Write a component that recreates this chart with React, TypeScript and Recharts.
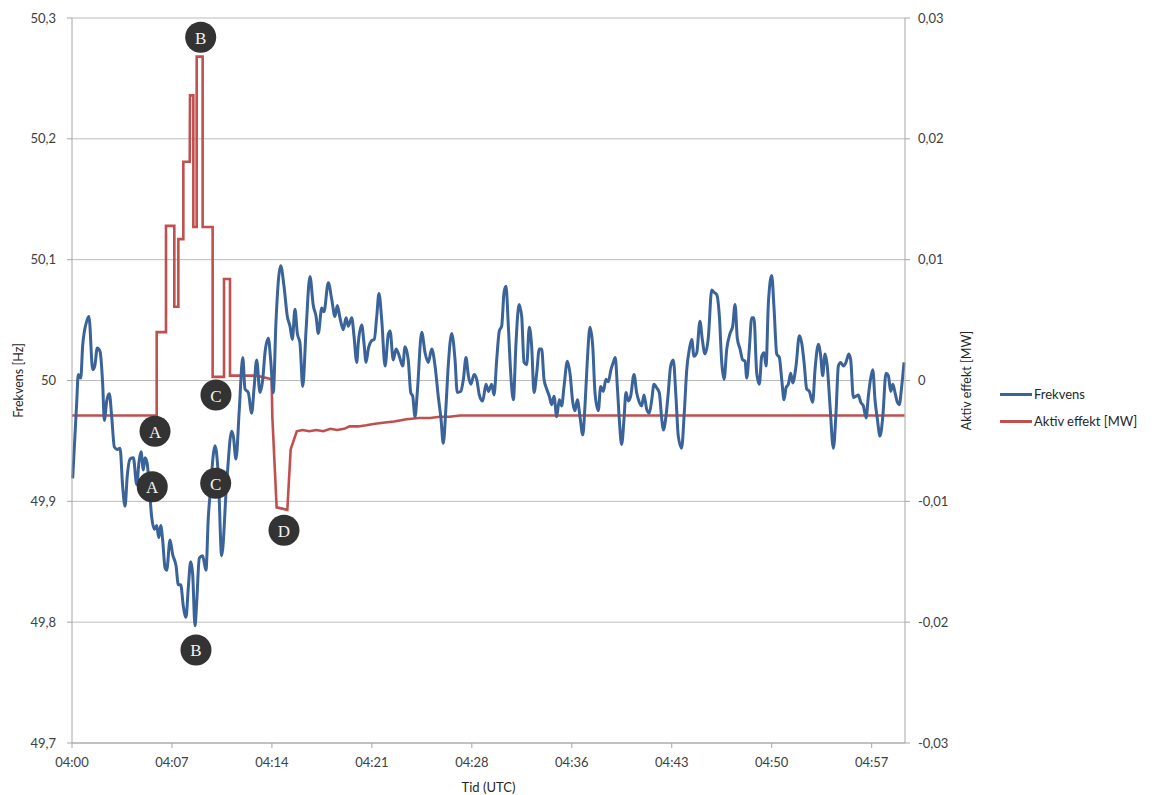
import React from 'react';
import {
  LineChart,
  Line,
  XAxis,
  YAxis,
  CartesianGrid,
  ReferenceDot,
} from 'recharts';

// minutes after 04:00 and frequency [Hz]
const freqTime = [
  0.05, 0.34, 0.45, 0.63, 0.77, 1.06, 1.22, 1.49, 1.64, 1.82, 2.02, 2.21, 2.33, 2.5, 2.69, 2.86, 3.05, 3.26, 3.46, 3.65,
  3.82, 3.98, 4.18, 4.42, 4.66, 4.83, 4.97, 5.14, 5.26, 5.42, 5.57, 5.74, 5.93, 6.1, 6.25, 6.39, 6.53, 6.7, 6.82, 7.06,
  7.25, 7.49, 7.66, 7.83, 8.02, 8.21, 8.38, 8.55, 8.69, 8.86, 8.98, 9.17, 9.41, 9.65, 9.82, 9.94, 10.3, 10.54, 10.78, 11.14,
  11.5, 11.62, 11.81, 12.05, 12.3, 12.46, 12.7, 12.94, 13.11, 13.3, 13.54, 13.74, 13.9, 14.14, 14.31, 14.5, 14.69, 15.03, 15.27, 15.51,
  15.7, 15.87, 16.06, 16.23, 16.42, 16.62, 16.86, 17.14, 17.38, 17.58, 17.74, 17.99, 18.15, 18.46, 18.71, 18.94, 19.11, 19.3, 19.54, 19.74,
  19.9, 20.15, 20.31, 20.51, 20.62, 20.87, 21.03, 21.18, 21.34, 21.59, 21.77, 21.95, 22.11, 22.31, 22.55, 22.78, 22.91, 23.14, 23.34, 23.58,
  23.82, 23.99, 24.22, 24.4, 24.54, 24.71, 24.87, 25.19, 25.43, 25.66, 25.91, 26.15, 26.38, 26.58, 26.74, 26.94, 27.1, 27.35, 27.59, 27.75,
  28.0, 28.19, 28.38, 28.55, 28.74, 28.96, 29.15, 29.34, 29.58, 29.82, 29.99, 30.23, 30.4, 30.59, 30.78, 30.95, 31.12, 31.26, 31.43, 31.6,
  31.79, 31.98, 32.2, 32.39, 32.56, 32.75, 32.94, 33.11, 33.28, 33.47, 33.66, 33.83, 34.0, 34.19, 34.38, 34.55, 34.72, 34.91, 35.1, 35.27,
  35.44, 35.68, 35.87, 36.07, 36.23, 36.4, 36.59, 36.79, 36.95, 37.12, 37.31, 37.51, 37.67, 37.91, 38.08, 38.27, 38.46, 38.63, 38.82, 38.99,
  39.13, 39.28, 39.42, 39.59, 39.76, 39.9, 40.07, 40.24, 40.48, 40.67, 40.86, 41.03, 41.2, 41.4, 41.58, 41.76, 41.92, 42.11, 42.3, 42.48,
  42.59, 42.78, 42.95, 43.12, 43.31, 43.5, 43.67, 43.91, 44.1, 44.28, 44.47, 44.64, 44.8, 45.0, 45.23, 45.4, 45.59, 45.83, 46.08, 46.24,
  46.44, 46.63, 46.8, 46.97, 47.16, 47.4, 47.59, 47.76, 47.92, 48.12, 48.31, 48.48, 48.6, 48.79, 48.96, 49.12, 49.32, 49.51, 49.68, 49.85,
  49.99, 50.16, 50.4, 50.57, 50.76, 50.95, 51.12, 51.29, 51.43, 51.6, 51.77, 51.91, 52.15, 52.39, 52.56, 52.73, 52.92, 53.11, 53.35, 53.52,
  53.76, 53.93, 54.07, 54.24, 54.4, 54.6, 54.84, 55.03, 55.2, 55.37, 55.56, 55.75, 55.95, 56.09, 56.28, 56.47, 56.64, 56.81, 57.0, 57.2,
  57.36, 57.53, 57.68, 57.84, 58.01, 58.2, 58.4, 58.63, 58.8, 58.97, 59.12, 59.28, 59.45, 59.59, 59.76, 59.93,
];

const freqHz = [
  49.919, 49.982, 50.005, 50.002, 50.029, 50.049, 50.053, 50.009, 50.012, 50.027, 50.024, 49.997, 49.967, 49.983, 49.989, 49.97, 49.945, 49.943, 49.944, 49.912,
  49.896, 49.921, 49.935, 49.936, 49.914, 49.933, 49.941, 49.926, 49.936, 49.931, 49.911, 49.887, 49.877, 49.88, 49.87, 49.88, 49.868, 49.845, 49.843, 49.868,
  49.856, 49.847, 49.831, 49.831, 49.813, 49.804, 49.829, 49.85, 49.84, 49.797, 49.816, 49.853, 49.855, 49.843, 49.887, 49.905, 49.946, 49.921, 49.855, 49.915,
  49.958, 49.954, 49.935, 49.976, 50.019, 49.993, 49.99, 49.973, 49.993, 50.017, 49.99, 50.001, 50.023, 50.035, 50.017, 49.99, 50.048, 50.095, 50.078, 50.053,
  50.045, 50.034, 50.059, 50.039, 50.031, 49.995, 50.042, 50.086, 50.062, 50.053, 50.039, 50.06, 50.057, 50.081, 50.067, 50.053, 50.062, 50.052, 50.042, 50.052,
  50.045, 50.052, 50.037, 50.015, 50.031, 50.046, 50.031, 50.015, 50.026, 50.033, 50.034, 50.053, 50.072, 50.05, 50.012, 50.038, 50.041, 50.017, 50.026, 50.02,
  50.012, 50.028, 50.017, 49.99, 49.987, 49.97, 49.99, 50.04, 50.023, 50.015, 50.026, 50.012, 49.987, 49.968, 49.948, 49.979, 50.012, 50.039, 50.017, 49.99,
  49.991, 50.001, 50.019, 50.004, 49.997, 50.005, 50.001, 49.988, 49.983, 49.997, 49.991, 49.997, 49.988, 50.017, 50.041, 50.045, 50.073, 50.078, 50.045, 50.006,
  49.984, 50.031, 50.063, 50.053, 50.015, 50.013, 50.044, 50.028, 49.99, 50.006, 50.026, 50.026, 50.001, 49.993, 49.987, 49.98, 49.987, 49.97, 49.984, 49.979,
  49.995, 50.016, 50.006, 49.982, 49.975, 49.984, 49.97, 49.955, 49.979, 50.017, 50.044, 50.028, 49.99, 49.975, 49.995, 49.991, 50.001, 49.999, 50.009, 50.015,
  50.019, 49.995, 49.968, 49.947, 49.968, 49.99, 49.983, 49.987, 50.005, 49.99, 49.982, 49.979, 49.988, 49.976, 49.973, 49.984, 49.997, 49.994, 49.99, 49.968,
  49.959, 49.97, 49.99, 50.012, 50.017, 49.987, 49.954, 49.944, 49.973, 50.009, 50.026, 50.034, 50.02, 50.023, 50.049, 50.034, 50.022, 50.035, 50.075, 50.073,
  50.071, 50.053, 50.015, 50.001, 50.026, 50.039, 50.045, 50.063, 50.035, 50.026, 50.017, 50.016, 50.002, 50.027, 50.052, 50.052, 50.006, 49.997, 50.02, 50.023,
  50.012, 50.064, 50.087, 50.059, 50.022, 50.019, 50.001, 49.984, 49.994, 49.997, 50.006, 49.998, 50.012, 50.037, 50.031, 50.015, 49.993, 49.991, 49.982, 50.009,
  50.03, 50.02, 50.004, 50.022, 50.012, 49.979, 49.944, 49.973, 50.012, 50.015, 50.012, 50.015, 50.022, 50.017, 49.986, 49.987, 49.988, 49.982, 49.979, 49.969,
  49.987, 50.002, 50.009, 49.984, 49.968, 49.954, 49.97, 50.006, 50.004, 49.991, 49.997, 49.99, 49.982, 49.98, 49.995, 50.015,
];

// minutes after 04:00 and active power [MW]
const powerTime = [
  0, 6.1, 6.1, 6.77, 6.77, 7.37, 7.37, 7.66, 7.66, 8.02, 8.02, 8.48, 8.5, 8.74, 8.74, 8.98, 8.98, 9.41, 9.41, 10.13,
  10.13, 10.95, 10.95, 11.38, 11.38, 13.3, 14.38, 14.43, 14.74, 15.51, 15.75, 16.19, 16.6, 17.1, 17.6, 18.1, 18.6, 19.1, 19.6, 20.0,
  20.6, 21.2, 21.7, 22.4, 23.2, 24.1, 25.0, 25.8, 26.5, 27.2, 27.95, 59.98,
];

const powerMw = [
  -0.0029, -0.0029, 0.004, 0.004, 0.0128, 0.0128, 0.0061, 0.0061, 0.0117, 0.0117, 0.0181, 0.0181, 0.0236, 0.0236, 0.0127, 0.0127, 0.0268, 0.0268, 0.0127, 0.0127,
  0.0003, 0.0003, 0.0084, 0.0084, 0.0004, 0.0004, 0.0001, -0.003, -0.0105, -0.0107, -0.0057, -0.0042, -0.0041, -0.0042, -0.0041, -0.0042, -0.004, -0.0041, -0.004, -0.0038,
  -0.0038, -0.0037, -0.0036, -0.0035, -0.0034, -0.0032, -0.0031, -0.0031, -0.003, -0.003, -0.0029, -0.0029,
];

const timeTicks = [0, 7.2, 14.4, 21.6, 28.8, 36, 43.2, 50.4, 57.6];
const hzTicks = [49.7, 49.8, 49.9, 50, 50.1, 50.2, 50.3];
const mwTicks = [-0.03, -0.02, -0.01, 0, 0.01, 0.02, 0.03];

// annotation markers: letter, minute, frequency-axis position
const markLetters = ['B', 'A', 'C', 'A', 'C', 'D', 'B'];
const markTime = [9.27, 5.98, 10.37, 5.78, 10.35, 15.27, 8.93];
const markHz = [50.284, 49.958, 49.988, 49.912, 49.915, 49.876, 49.777];

const freqData = freqTime.map((t, i) => ({ t, hz: freqHz[i] }));
const powerData = powerTime.map((t, i) => ({ t, mw: powerMw[i] }));

const FONT = 'Lato, "Open Sans", sans-serif';
const AXIS = '#a6a6a6';
const TICK = { fill: '#404040', fontSize: 13, fontFamily: FONT };

const fmtTime = (m: number) => `04:${String(Math.floor(m + 1e-6)).padStart(2, '0')}`;
const fmtComma = (digits: number) => (v: number) => String(Number(v.toFixed(digits))).replace('.', ',');

const YTitle = ({ viewBox, text, dx }: any) => {
  if (!viewBox) return null;
  const x = viewBox.x + dx;
  const y = viewBox.y + viewBox.height / 2;
  return (
    <text
      x={x}
      y={y}
      transform={`rotate(-90 ${x} ${y})`}
      textAnchor="middle"
      dominantBaseline="central"
      fill="#262626"
      fontSize={12.5}
      fontFamily={FONT}
    >
      {text}
    </text>
  );
};

const Marker = ({ cx, cy, letter }: any) => (
  <g>
    <circle cx={cx} cy={cy} r={15.5} fill="#333333" />
    <text
      x={cx}
      y={cy + 1}
      textAnchor="middle"
      dominantBaseline="central"
      fill="#f2f2f2"
      fontSize={17}
      fontFamily='"Liberation Serif", "DejaVu Serif", serif'
    >
      {letter}
    </text>
  </g>
);

export default function App() {
  return (
    <div style={{ position: 'absolute', left: 0, top: 0, width: 1158, height: 795, background: '#fff' }}>
      <LineChart width={1158} height={795} margin={{ top: 18, right: 131, bottom: 0, left: 0 }}>
        <CartesianGrid yAxisId="left" horizontal vertical={false} stroke="#bcbcbc" />
        <XAxis
          dataKey="t"
          type="number"
          domain={[0, 60]}
          ticks={timeTicks}
          tickFormatter={fmtTime}
          height={52}
          tick={TICK}
          tickSize={5}
          tickMargin={10}
          axisLine={{ stroke: AXIS }}
          tickLine={{ stroke: AXIS }}
          allowDuplicatedCategory
          label={{ value: 'Tid (UTC)', position: 'insideBottom', offset: 3, fill: '#262626', fontSize: 13, fontFamily: FONT }}
        />
        <YAxis
          yAxisId="left"
          orientation="left"
          width={72}
          domain={[49.7, 50.3]}
          ticks={hzTicks}
          tickFormatter={fmtComma(1)}
          tick={TICK}
          tickSize={5}
          tickMargin={11}
          axisLine={{ stroke: AXIS }}
          tickLine={{ stroke: AXIS }}
          allowDataOverflow
          label={<YTitle text="Frekvens [Hz]" dx={18} />}
        />
        <YAxis
          yAxisId="right"
          orientation="right"
          width={122}
          domain={[-0.03, 0.03]}
          ticks={mwTicks}
          tickFormatter={fmtComma(2)}
          tick={TICK}
          tickSize={5}
          tickMargin={8}
          axisLine={{ stroke: AXIS }}
          tickLine={{ stroke: AXIS }}
          allowDataOverflow
          label={<YTitle text="Aktiv effekt [MW]" dx={61} />}
        />
        <Line
          data={powerData}
          dataKey="mw"
          yAxisId="right"
          type="linear"
          stroke="#c0504d"
          strokeWidth={2.6}
          dot={false}
          isAnimationActive={false}
        />
        <Line
          data={freqData}
          dataKey="hz"
          yAxisId="left"
          type="monotone"
          stroke="#3a6399"
          strokeWidth={3}
          dot={false}
          isAnimationActive={false}
        />
        {markLetters.map((letter, i) => (
          <ReferenceDot
            key={i}
            yAxisId="left"
            x={markTime[i]}
            y={markHz[i]}
            shape={(p: any) => <Marker {...p} letter={letter} />}
          />
        ))}
      </LineChart>
      <div style={{ position: 'absolute', left: 1000, top: 385, fontFamily: FONT, fontSize: 13, color: '#262626' }}>
        <div style={{ display: 'flex', alignItems: 'center', height: 18, marginBottom: 9 }}>
          <div style={{ width: 32, height: 3, background: '#3a6399', marginRight: 2 }} />
          <span>Frekvens</span>
        </div>
        <div style={{ display: 'flex', alignItems: 'center', height: 18 }}>
          <div style={{ width: 32, height: 3, background: '#c0504d', marginRight: 2 }} />
          <span>Aktiv effekt [MW]</span>
        </div>
      </div>
    </div>
  );
}
